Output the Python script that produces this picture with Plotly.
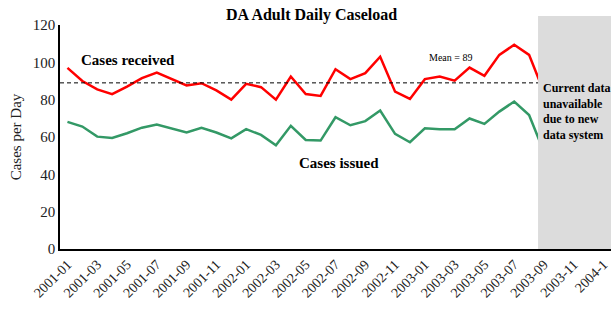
import plotly.graph_objects as go

months = ["2001-01","2001-02","2001-03","2001-04","2001-05","2001-06","2001-07","2001-08","2001-09","2001-10","2001-11","2001-12",
          "2002-01","2002-02","2002-03","2002-04","2002-05","2002-06","2002-07","2002-08","2002-09","2002-10","2002-11","2002-12",
          "2003-01","2003-02","2003-03","2003-04","2003-05","2003-06","2003-07","2003-08","2003-09","2003-10","2003-11","2003-12",
          "2004-1"]
tick_labels = months[::2]

cases_received = [97, 90, 85.5, 83, 87, 91.5, 94.5, 91, 87.6, 88.8, 85, 80,
                  88.5, 86.7, 80, 92.4, 83, 82, 96.3, 91, 94.2, 103, 84.3, 80.4,
                  91, 92.4, 90.2, 97.2, 92.8, 104, 109.4, 104, 84]
cases_issued = [68.1, 65.6, 60.2, 59.5, 62, 65, 66.7, 64.5, 62.4, 64.9, 62.4, 59.3,
                64.2, 61.1, 55.6, 66, 58.4, 58.1, 70.6, 66.3, 68.5, 74.2, 61.7, 57.2,
                64.7, 64.2, 64.2, 69.9, 67, 73.6, 79, 71.8, 52]
mean_value = 89

serif = "Liberation Serif, Times New Roman, serif"

fig = go.Figure()
fig.add_trace(go.Scatter(x=months[:len(cases_received)], y=cases_received, mode="lines",
                         line=dict(color="#FF0000", width=2.5), name="Cases received"))
fig.add_trace(go.Scatter(x=months[:len(cases_issued)], y=cases_issued, mode="lines",
                         line=dict(color="#339966", width=2.5), name="Cases issued"))

# mean line
fig.add_shape(type="line", xref="x", yref="y", x0=-0.5, x1=len(months) - 0.5,
              y0=mean_value, y1=mean_value, line=dict(color="black", width=1, dash="4px,3px"))
# gray unavailable region
fig.add_shape(type="rect", xref="paper", yref="paper", x0=0.8676, x1=1.0, y0=0, y1=1.04,
              fillcolor="#DCDCDC", line=dict(width=0), layer="above")

fig.add_annotation(x=0.034, y=0.844, xref="paper", yref="paper", text="<b>Cases received</b>",
                   showarrow=False, xanchor="left", yanchor="middle",
                   font=dict(family=serif, size=15, color="black"))
fig.add_annotation(x=0.43, y=0.384, xref="paper", yref="paper", text="<b>Cases issued</b>",
                   showarrow=False, xanchor="left", yanchor="middle",
                   font=dict(family=serif, size=15, color="black"))
fig.add_annotation(x=0.666, y=0.857, xref="paper", yref="paper", text=f"Mean = {mean_value}",
                   showarrow=False, xanchor="left", yanchor="middle",
                   font=dict(family=serif, size=10, color="black"))
fig.add_annotation(x=0.873, y=0.614, xref="paper", yref="paper",
                   text="<b>Current data<br>unavailable<br>due to new<br>data system</b>",
                   showarrow=False, xanchor="left", yanchor="middle", align="left",
                   font=dict(family=serif, size=12, color="black"))

fig.update_layout(
    width=611, height=310,
    margin=dict(l=60, r=0, t=25, b=61),
    paper_bgcolor="white", plot_bgcolor="white",
    showlegend=False,
    title=dict(text="<b>DA Adult Daily Caseload</b>", x=0.51, xanchor="center", y=0.952, yanchor="middle",
               font=dict(family=serif, size=16, color="black")),
    font=dict(family=serif, color="black"),
)
fig.update_xaxes(type="category", categoryorder="array", categoryarray=months,
                 range=[-0.5, len(months) - 0.5],
                 tickmode="array", tickvals=tick_labels, ticktext=tick_labels,
                 tickangle=-45, tickfont=dict(family=serif, size=14, color="#222"),
                 showline=True, linecolor="black", linewidth=1.5, showgrid=False,
                 ticks="", zeroline=False)
fig.update_yaxes(range=[0, 120], dtick=20, showline=True, linecolor="black", linewidth=1.5,
                 showgrid=False, zeroline=False, ticks="",
                 tickfont=dict(family=serif, size=15, color="#222"),
                 title=dict(text="Cases per Day", font=dict(family=serif, size=15, color="#222"), standoff=8))

fig.write_html("out.html", config={"displayModeBar": False},
               post_script="document.body.style.margin='0';document.body.style.overflow='hidden';"
                           "document.documentElement.style.overflow='hidden';")
